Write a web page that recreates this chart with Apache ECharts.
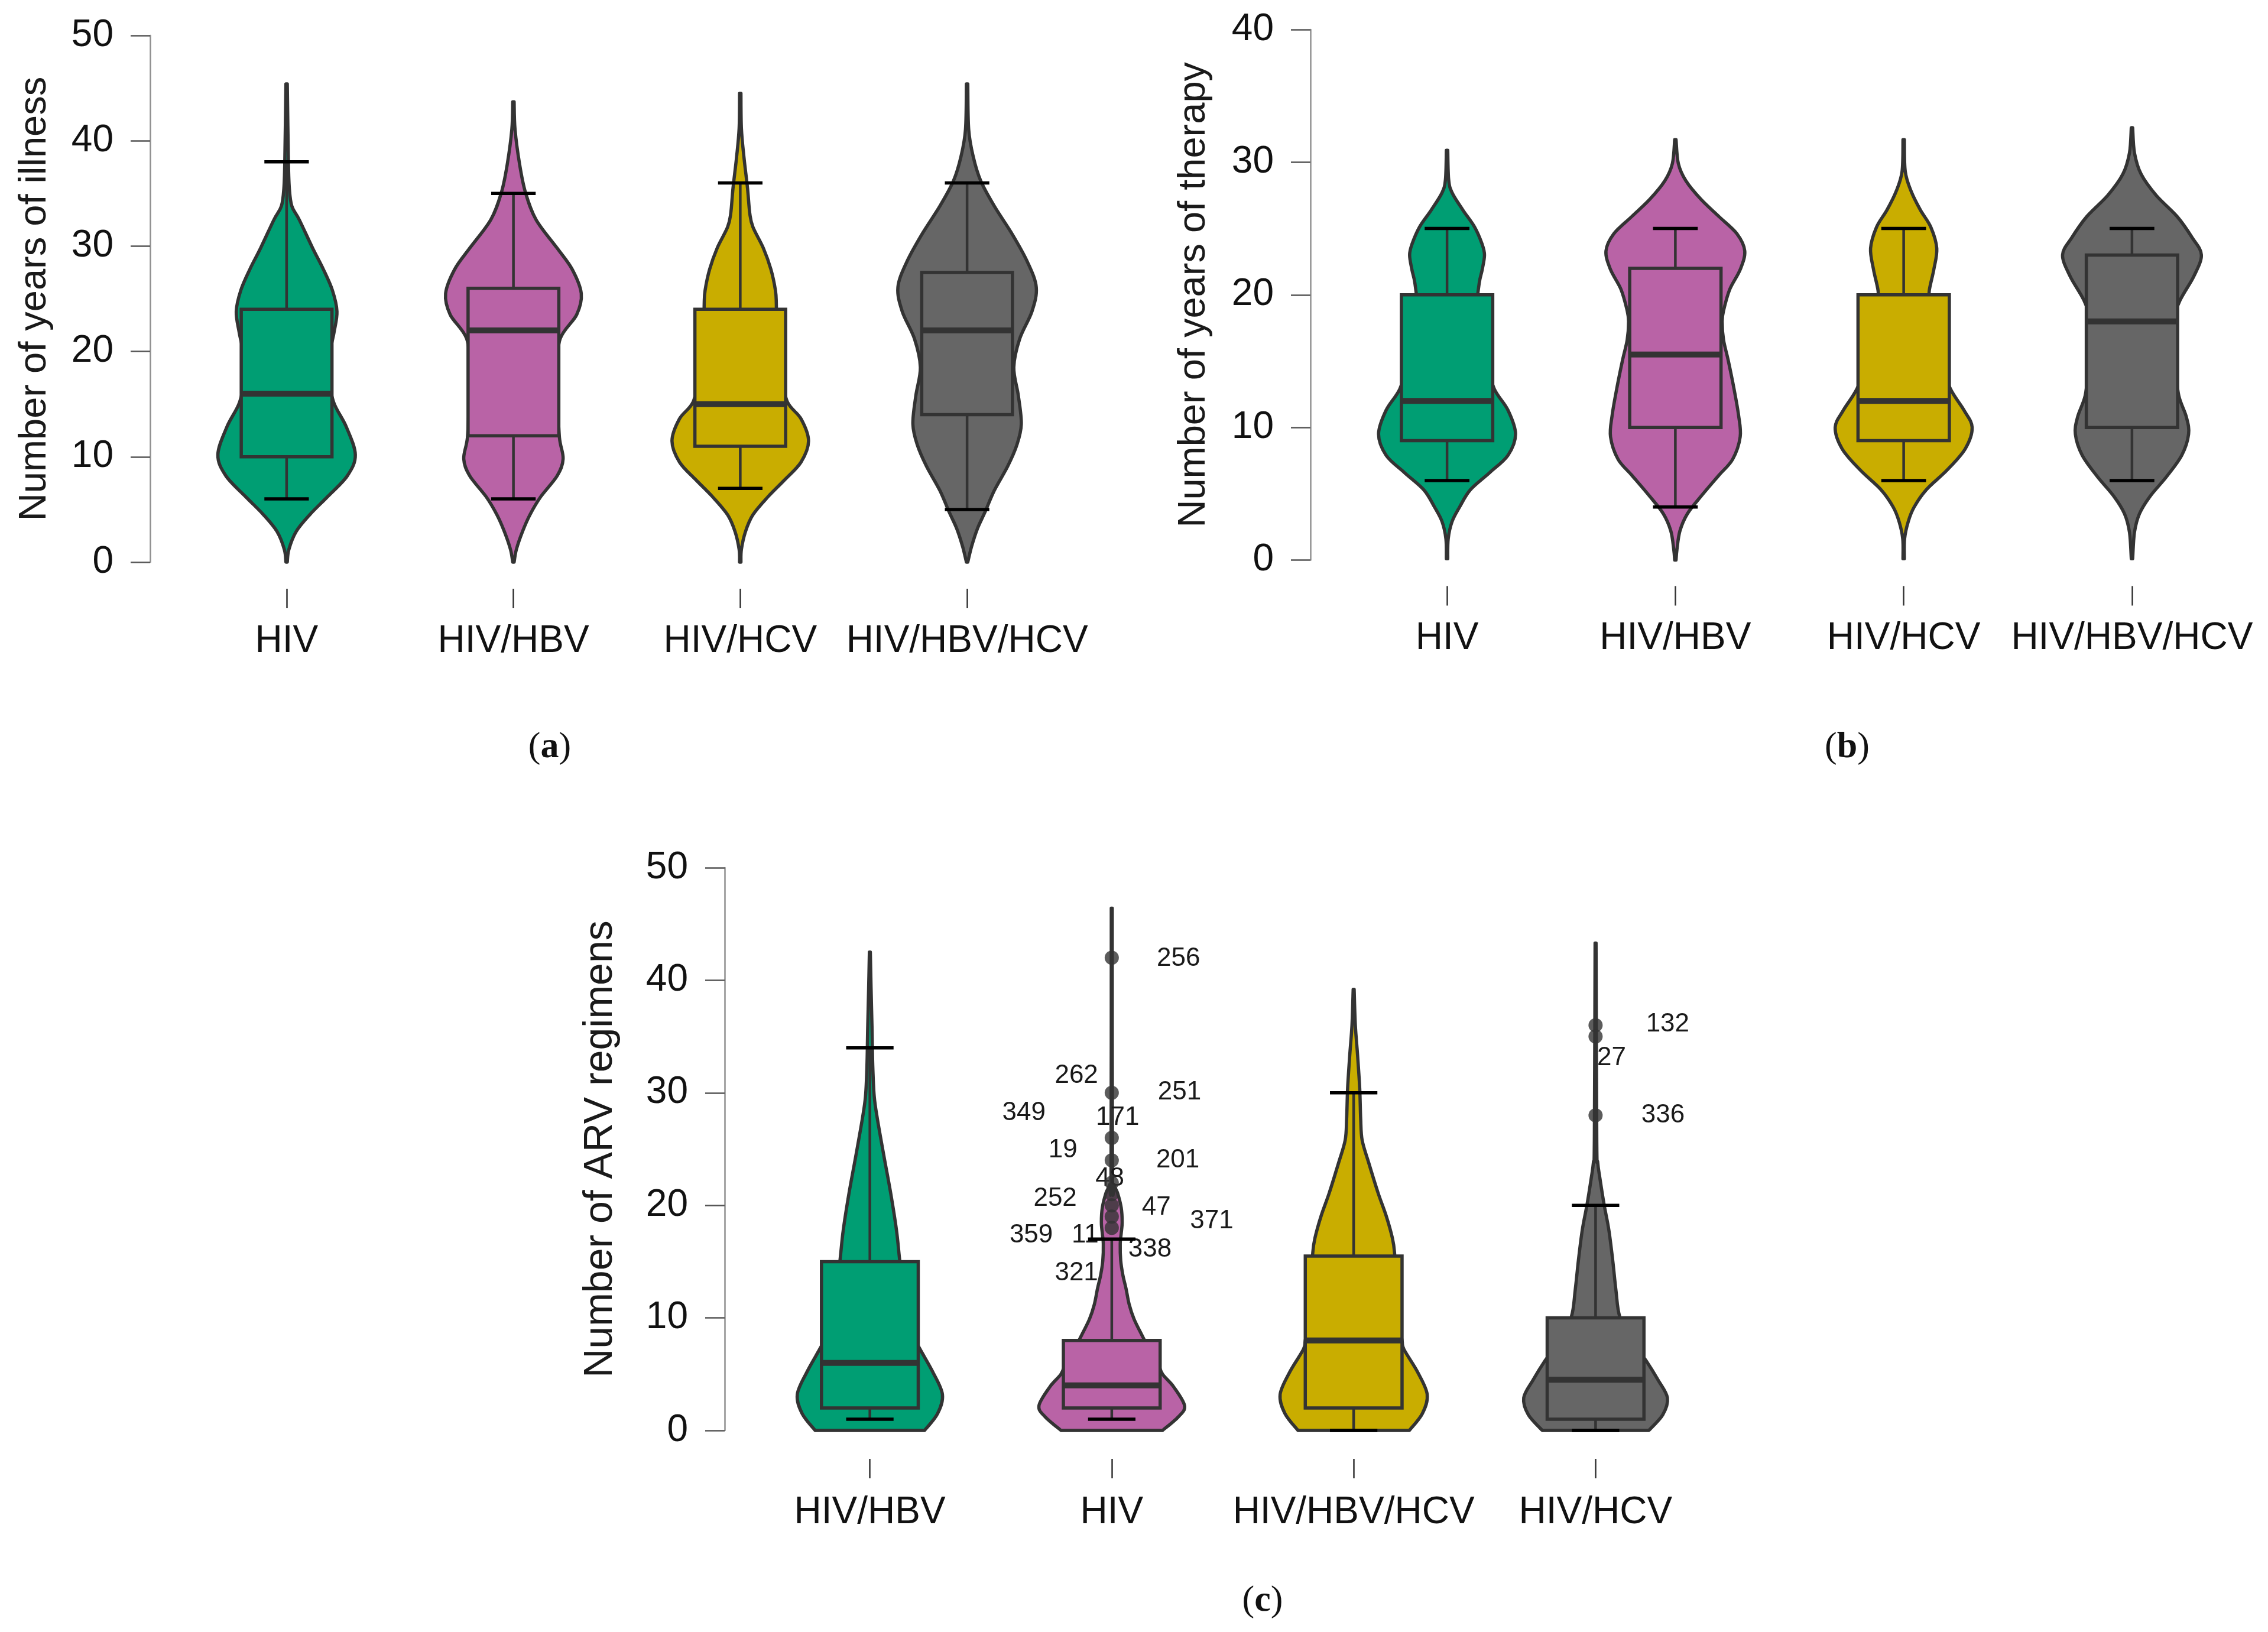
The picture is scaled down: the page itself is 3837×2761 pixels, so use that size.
<!DOCTYPE html>
<html>
<head>
<meta charset="utf-8">
<title>Violin plots: years of illness, years of therapy, ARV regimens</title>
<script src="https://cdn.jsdelivr.net/npm/echarts@6/dist/echarts.min.js"></script>
<style>
  html, body { margin: 0; padding: 0; background: #fff; }
  #chart { width: 3837px; height: 2761px; }
</style>
</head>
<body>
<div id="chart"></div>
<script>
// ── Categories and colours ──────────────────────────────────────────────────
const CATS_AB = ['HIV', 'HIV/HBV', 'HIV/HCV', 'HIV/HBV/HCV'];
const CATS_C  = ['HIV/HBV', 'HIV', 'HIV/HBV/HCV', 'HIV/HCV'];
const FILLS   = ['#009E73', '#B963A6', '#C9AD00', '#666666'];

// ── Box statistics: [lower whisker, Q1, median, Q3, upper whisker] ──────────
const BOX_ILLNESS = [[6, 10, 16, 24, 38], [6, 12, 22, 26, 35], [7, 11, 15, 24, 36], [5, 14, 22, 27.5, 36]];
const BOX_THERAPY = [[6, 9, 12, 20, 25], [4, 10, 15.5, 22, 25], [6, 9, 12, 20, 25], [6, 10, 18, 23, 25]];
const BOX_ARV     = [[1, 2, 6, 15, 34], [1, 2, 4, 8, 17], [0, 2, 8, 15.5, 30], [0, 1, 4.5, 10, 20]];

// ── Violin outlines: [value, half width as a share of the category band] ────
const VIOLIN_ILLNESS = [
  [[0, .003], [1.2, .01], [2.9, .042], [4.5, .102], [6.2, .18], [8.2, .268], [10.2, .303], [12.85, .263], [15.2, .207],
   [17.8, .185], [19.8, .19], [21.8, .209], [23.8, .222], [25.8, .202], [27.8, .162], [29.8, .115], [32.5, .056],
   [33.8, .023], [35.5, .012], [38, .008], [45.4, .003]],
  [[0, .003], [1.2, .013], [2.9, .04], [4.5, .073], [6.2, .12], [8.2, .193], [9.8, .219], [11.8, .203], [15.2, .195],
   [17.8, .19], [21.2, .206], [23.5, .279], [25.5, .299], [27.8, .259], [29.8, .193], [32.5, .10], [35.1, .053],
   [37.8, .027], [41.1, .007], [43.7, .003]],
  [[0, .003], [1.2, .005], [2.9, .023], [4.5, .056], [6.2, .122], [7.8, .195], [9.5, .268], [11.5, .301], [13.6, .268],
   [15.2, .208], [17.8, .18], [19.8, .165], [21.8, .16], [24.5, .159], [25.8, .155], [27.8, .135], [29.8, .102],
   [31.8, .056], [33.1, .042], [35.5, .032], [38.5, .016], [41.2, .005], [44.5, .003]],
  [[0, .003], [1.5, .02], [3.2, .046], [4.8, .08], [6.8, .12], [9.1, .179], [11.1, .219], [13.1, .239], [15.8, .226],
   [18.5, .206], [21.2, .232], [23.8, .286], [26.1, .305], [28.5, .266], [31.1, .2], [33.8, .12], [36.2, .06],
   [38.5, .027], [41.1, .007], [45.4, .003]]
];
const VIOLIN_THERAPY = [
  [[0.1, .003], [1.6, .005], [2.9, .022], [4.0, .055], [5.3, .102], [6.6, .187], [7.9, .267], [9.5, .30], [11.3, .267],
   [12.9, .207], [15, .17], [17, .14], [19, .13], [20.9, .141], [21.9, .154], [23.0, .164], [23.8, .154], [25.1, .121],
   [26.4, .069], [27.7, .022], [28.7, .007], [30.9, .003]],
  [[0, .003], [0.8, .007], [2.2, .02], [3.5, .053], [4.8, .112], [6.4, .191], [7.6, .251], [9.3, .284], [10.9, .277],
   [12.9, .257], [15.1, .231], [16.6, .211], [18.0, .205], [18.8, .211], [20.4, .238], [21.9, .284], [23.3, .304],
   [24.6, .27], [25.9, .191], [27.2, .112], [28.6, .046], [29.9, .013], [31.7, .003]],
  [[0.1, .003], [1.6, .004], [2.9, .02], [4.0, .046], [5.3, .099], [6.8, .191], [8.4, .27], [10.0, .30], [11.3, .264],
   [12.9, .205], [15, .16], [17, .125], [19, .11], [20.3, .112], [21.9, .132], [23.5, .145], [25.1, .119], [26.4, .073],
   [27.8, .033], [29.3, .007], [31.7, .003]],
  [[0.1, .003], [2.1, .011], [3.5, .033], [4.8, .079], [6.3, .152], [7.9, .218], [9.5, .248], [10.8, .238], [12.4, .205],
   [14.5, .19], [16, .18], [18, .18], [19.6, .211], [21.4, .271], [23.0, .304], [24.3, .264], [25.9, .198], [27.5, .106],
   [29.1, .04], [30.7, .011], [32.6, .003]]
];
const VIOLIN_ARV = [
  [[0, .226], [1.5, .28], [3.2, .30], [5.2, .26], [7.2, .208], [8, .19], [10, .16], [12, .14], [15.2, .123], [17.8, .11],
   [21.1, .086], [24.4, .058], [27.7, .031], [29.7, .018], [32.4, .012], [35.7, .009], [39.3, .005], [42.5, .002]],
  [[0, .21], [1.2, .275], [2.2, .301], [3.9, .255], [5, .21], [6, .19], [7, .16], [8.5, .124], [9.9, .092], [11.2, .072],
   [12.6, .059], [13.8, .046], [15.1, .037], [16.6, .035], [17.5, .039], [18.5, .043], [19.8, .039], [21.1, .024],
   [21.8, .01], [23, .003], [46.4, .002]],
  [[0, .23], [1.5, .284], [3.2, .304], [5.2, .264], [7.2, .208], [8, .2], [10, .185], [13, .175], [15.8, .169], [17.1, .16],
   [19.1, .134], [21.1, .101], [23.8, .062], [25.8, .035], [27.7, .029], [30.4, .025], [33.4, .016], [36, .007], [39.2, .002]],
  [[0, .22], [1.4, .278], [2.9, .297], [4.5, .258], [6.2, .209], [7, .18], [8, .15], [10.1, .10], [12.5, .084], [15.1, .071],
   [17.8, .055], [20.1, .035], [22.4, .018], [23.8, .009], [25.8, .005], [43.3, .002]]
];

// ── Outliers of panel (c) ───────────────────────────────────────────────────
const OUT_ARV_CAT = [1, 1, 1, 1, 1, 1, 1, 1, 1, 3, 3, 3];
const OUT_ARV_VAL = [42, 30, 26, 24, 22, 21, 20, 19, 18, 36, 35, 28];
const LBL_ARV_TEXT = ['256', '262', '251', '349', '171', '19', '201', '48', '252', '47', '371', '359', '11', '338', '321',
                      '132', '27', '336'];
const LBL_ARV_CAT = [1, 1, 1, 1, 1, 1, 1, 1, 1, 1, 1, 1, 1, 1, 1, 3, 3, 3];
// label placement (value position and sideways shift in bands), as repelled in the original
const LBL_ARV_Y  = [41.9, 31.5, 30.05, 28.2, 27.8, 24.9, 24.0, 22.4, 20.6, 19.8, 18.6, 17.35, 17.35, 16.07, 14.0, 36.1, 33.1, 28.0];
const LBL_ARV_DX = [0.276, -0.146, 0.28, -0.363, 0.024, -0.202, 0.273, -0.008, -0.234, 0.184, 0.413, -0.333, -0.11,
                    0.158, -0.146, 0.298, 0.066, 0.279];

// ── Styling ─────────────────────────────────────────────────────────────────
const FONT = '"Liberation Sans", Arial, Helvetica, sans-serif';
const SERIF = '"Liberation Serif", "Times New Roman", serif';
const INK = '#333333';

function yAxis(gridIndex, max, name, offset, nameGap, nameSize) {
  return {
    type: 'value', gridIndex, min: 0, max, interval: 10, offset,
    name, nameLocation: 'middle', nameGap,
    nameTextStyle: { fontSize: nameSize, color: '#1a1a1a', fontFamily: FONT },
    axisLine: { show: true, lineStyle: { color: '#8f8f8f', width: 2.5 } },
    axisTick: { show: true, length: 33, lineStyle: { color: '#555', width: 2.5 } },
    axisLabel: { fontSize: 64, color: '#111', margin: 62, fontFamily: FONT },
    splitLine: { show: false }
  };
}

function xAxis(gridIndex, cats, offset, margin) {
  return {
    type: 'category', gridIndex, data: cats, offset,
    axisLine: { show: false, onZero: false },
    axisTick: { show: true, alignWithLabel: true, length: 33, lineStyle: { color: INK, width: 2.5 } },
    axisLabel: { interval: 0, fontSize: 64, color: '#111', margin, fontFamily: FONT },
    splitLine: { show: false }
  };
}

// smooth curve through points (Catmull-Rom turned into cubic segments)
function curveTo(pts) {
  let d = '';
  const n = pts.length;
  for (let i = 0; i < n - 1; i++) {
    const p0 = pts[Math.max(i - 1, 0)], p1 = pts[i], p2 = pts[i + 1], p3 = pts[Math.min(i + 2, n - 1)];
    const c1 = [p1[0] + (p2[0] - p0[0]) / 6, p1[1] + (p2[1] - p0[1]) / 6];
    const c2 = [p2[0] - (p3[0] - p1[0]) / 6, p2[1] - (p3[1] - p1[1]) / 6];
    d += ' C' + c1[0].toFixed(2) + ' ' + c1[1].toFixed(2) + ' ' + c2[0].toFixed(2) + ' ' + c2[1].toFixed(2) +
         ' ' + p2[0].toFixed(2) + ' ' + p2[1].toFixed(2);
  }
  return d;
}

function violinSeries(k, profiles) {
  return {
    type: 'custom', xAxisIndex: k, yAxisIndex: k, z: 2, silent: true, clip: false,
    data: profiles.map((p, i) => [i, 0]),
    renderItem(params, api) {
      const i = params.dataIndex;
      const prof = profiles[i];
      const band = api.size([1, 0])[0];
      const cx = api.coord([i, 0])[0];
      const right = prof.map(([v, f]) => [cx + f * band, api.coord([i, v])[1]]);
      const left = prof.slice().reverse().map(([v, f]) => [cx - f * band, api.coord([i, v])[1]]);
      const d = 'M' + right[0][0].toFixed(2) + ' ' + right[0][1].toFixed(2) + curveTo(right) +
                ' L' + left[0][0].toFixed(2) + ' ' + left[0][1].toFixed(2) + curveTo(left) + ' Z';
      return {
        type: 'path',
        shape: { pathData: d },
        style: { fill: FILLS[i], stroke: INK, lineWidth: 5.5, lineJoin: 'round' }
      };
    }
  };
}

function boxSeries(k, boxes) {
  return {
    type: 'custom', xAxisIndex: k, yAxisIndex: k, z: 4, silent: true, clip: false,
    data: boxes.map((b, i) => [i].concat(b)),
    renderItem(params, api) {
      const i = api.value(0);
      const band = api.size([1, 0])[0];
      const cx = api.coord([i, 0])[0];
      const y = d => api.coord([i, api.value(d)])[1];
      const lo = y(1), q1 = y(2), md = y(3), q3 = y(4), hi = y(5);
      const bw = 0.2 * band, cw = 0.098 * band;
      const line = (x1, y1, x2, y2, stroke, w) =>
        ({ type: 'line', shape: { x1, y1, x2, y2 }, style: { stroke, lineWidth: w } });
      return {
        type: 'group',
        children: [
          line(cx, lo, cx, q1, INK, 4.5),
          line(cx, q3, cx, hi, INK, 4.5),
          { type: 'rect', shape: { x: cx - bw, y: q3, width: 2 * bw, height: q1 - q3 },
            style: { fill: FILLS[i], stroke: INK, lineWidth: 5.5 } },
          line(cx - bw, md, cx + bw, md, INK, 10),
          line(cx - cw, lo, cx + cw, lo, '#000', 5.5),
          line(cx - cw, hi, cx + cw, hi, '#000', 5.5)
        ]
      };
    }
  };
}

function panelTag(letter, x, y) {
  return {
    type: 'text', x, y,
    style: {
      text: '{n|(}{b|' + letter + '}{n|)}', align: 'center', verticalAlign: 'middle',
      rich: {
        n: { fontFamily: SERIF, fontSize: 62, fill: '#111' },
        b: { fontFamily: SERIF, fontSize: 62, fontWeight: 'bold', fill: '#111' }
      }
    }
  };
}

const chart = echarts.init(document.getElementById('chart'), null, { renderer: 'canvas' });

chart.setOption({
  backgroundColor: '#ffffff',
  animation: false,
  grid: [
    { left: 293, top: 60, width: 1535, height: 891 },
    { left: 2255, top: 50, width: 1545, height: 897.5 },
    { left: 1267, top: 1468, width: 1637, height: 952 }
  ],
  xAxis: [
    xAxis(0, CATS_AB, 45, 57),
    xAxis(1, CATS_AB, 44, 57),
    xAxis(2, CATS_C, 48, 59)
  ],
  yAxis: [
    yAxis(0, 50, 'Number of years of illness', 39, 162, 65),
    yAxis(1, 40, 'Number of years of therapy', 38, 164, 65),
    yAxis(2, 50, 'Number of ARV regimens', 41, 176, 68)
  ],
  series: [
    violinSeries(0, VIOLIN_ILLNESS),
    boxSeries(0, BOX_ILLNESS),
    violinSeries(1, VIOLIN_THERAPY),
    boxSeries(1, BOX_THERAPY),
    violinSeries(2, VIOLIN_ARV),
    {
      type: 'custom', xAxisIndex: 2, yAxisIndex: 2, z: 3, silent: true, clip: false,
      data: LBL_ARV_Y.map((v, i) => [LBL_ARV_CAT[i], v]),
      renderItem(params, api) {
        const i = params.dataIndex;
        const band = api.size([1, 0])[0];
        const p = api.coord([api.value(0), api.value(1)]);
        return {
          type: 'text',
          style: {
            x: p[0] + LBL_ARV_DX[i] * band, y: p[1], text: LBL_ARV_TEXT[i],
            fill: '#1a1a1a', font: '44px ' + FONT, align: 'center', verticalAlign: 'middle'
          }
        };
      }
    },
    boxSeries(2, BOX_ARV),
    {
      type: 'scatter', xAxisIndex: 2, yAxisIndex: 2, z: 5, silent: true,
      symbol: 'circle', symbolSize: 24,
      itemStyle: { color: INK },
      data: OUT_ARV_VAL.map((v, i) => [OUT_ARV_CAT[i], v])
    }
  ],
  graphic: [
    panelTag('a', 930, 1265),
    panelTag('b', 3125, 1265),
    panelTag('c', 2136, 2709)
  ]
});
</script>
</body>
</html>
